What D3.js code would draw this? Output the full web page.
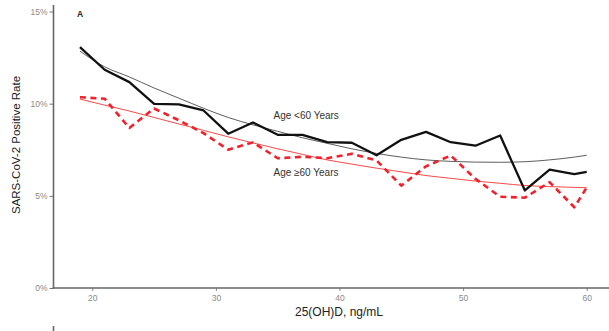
<!DOCTYPE html>
<html>
<head>
<meta charset="utf-8">
<script src="https://cdn.jsdelivr.net/npm/d3@7"></script>
<style>
  html, body { margin: 0; padding: 0; background: #fff; }
  svg { display: block; font-family: "Liberation Sans", Arial, sans-serif; }
</style>
</head>
<body>
<svg id="chart" width="609" height="331"></svg>
<script>
// ---- data ----
const vitD = [19, 21, 23, 25, 27, 29, 31, 33, 35, 37, 39, 41, 43, 45, 47, 49, 51, 53, 55, 57, 59, 60];
const rateUnder60 = [13.07, 11.84, 11.17, 9.99, 9.96, 9.63, 8.37, 8.98, 8.31, 8.31, 7.91, 7.88, 7.2, 8.04, 8.47, 7.91, 7.72, 8.27, 5.29, 6.42, 6.18, 6.3];
const rate60Plus = [10.35, 10.27, 8.68, 9.74, 9.1, 8.4, 7.5, 7.9, 7.04, 7.12, 7.04, 7.28, 6.92, 5.55, 6.6, 7.19, 5.92, 4.95, 4.9, 5.74, 4.38, 5.45];
const trendX = [19, 21, 23, 25, 27, 29, 31, 33, 35, 37, 39, 41, 43, 45, 47, 49, 51, 53, 55, 57, 59, 60];
const trendUnder60 = [12.85, 12.0, 11.45, 10.85, 10.3, 9.75, 9.25, 8.85, 8.5, 8.15, 7.85, 7.55, 7.3, 7.1, 6.95, 6.87, 6.83, 6.82, 6.85, 6.95, 7.1, 7.2];
const trend60Plus = [10.25, 9.92, 9.6, 9.25, 8.9, 8.55, 8.2, 7.87, 7.55, 7.25, 6.95, 6.72, 6.5, 6.3, 6.1, 5.95, 5.8, 5.68, 5.56, 5.5, 5.46, 5.44];
const xTicks = [20, 30, 40, 50, 60];
const yTicks = [0, 5, 10, 15];
const seriesLabels = ["Age <60 Years", "Age \u226560 Years"];

// ---- chart ----
const svg = d3.select("#chart");
const x = d3.scaleLinear().domain([20, 60]).range([92.3, 586.7]);
const y = d3.scaleLinear().domain([0, 15]).range([288, 11.5]);
const axisX0 = 53.5;

// y axis
const yAxis = svg.append("g").attr("transform", `translate(${axisX0},0)`)
  .call(d3.axisLeft(y).tickValues(yTicks).tickSize(4).tickPadding(2).tickFormat(d => d + "%"));
yAxis.select(".domain").remove();
yAxis.selectAll(".tick line").attr("stroke", "#777").attr("stroke-width", 1);
yAxis.selectAll(".tick text").attr("fill", "#8a8a8a").attr("font-size", 8.5).attr("font-family", "Liberation Sans, Arial, sans-serif");
svg.append("line").attr("x1", axisX0).attr("x2", axisX0).attr("y1", 5).attr("y2", 288.5)
  .attr("stroke", "#666").attr("stroke-width", 1.6);

// x axis
const xAxis = svg.append("g").attr("transform", `translate(0,${y(0)})`)
  .call(d3.axisBottom(x).tickValues(xTicks).tickSize(3).tickPadding(4));
xAxis.select(".domain").remove();
xAxis.selectAll(".tick line").attr("stroke", "#888").attr("stroke-width", 1);
xAxis.selectAll(".tick text").attr("fill", "#8a8a8a").attr("font-size", 8.5).attr("font-family", "Liberation Sans, Arial, sans-serif");
svg.append("line").attr("x1", axisX0 - 0.8).attr("x2", 609).attr("y1", y(0)).attr("y2", y(0))
  .attr("stroke", "#666").attr("stroke-width", 1.6);

// axis titles
svg.append("text").attr("x", 339).attr("y", 315.5).attr("text-anchor", "middle")
  .attr("font-size", 12).attr("fill", "#222").text("25(OH)D, ng/mL");
svg.append("text").attr("transform", "translate(20,145) rotate(-90)").attr("text-anchor", "middle")
  .attr("font-size", 11.5).attr("fill", "#222").text("SARS-CoV-2 Positive Rate");

// panel letter
svg.append("text").attr("x", 77).attr("y", 16.5).attr("font-size", 8.5).attr("font-weight", "bold")
  .attr("fill", "#222").text("A");

// lines
const lineGen = (xs) => d3.line().x((d, i) => x(xs[i])).y(d => y(d));
const smoothGen = (xs) => d3.line().curve(d3.curveMonotoneX).x((d, i) => x(xs[i])).y(d => y(d));

svg.append("path").datum(trendUnder60).attr("d", smoothGen(trendX))
  .attr("fill", "none").attr("stroke", "#333").attr("stroke-width", 0.8);
svg.append("path").datum(trend60Plus).attr("d", smoothGen(trendX))
  .attr("fill", "none").attr("stroke", "#f33").attr("stroke-width", 0.9);

svg.append("path").datum(rateUnder60).attr("d", lineGen(vitD))
  .attr("fill", "none").attr("stroke", "#111").attr("stroke-width", 2.3).attr("stroke-linejoin", "round");
svg.append("path").datum(rate60Plus).attr("d", lineGen(vitD))
  .attr("fill", "none").attr("stroke", "#f2202a").attr("stroke-width", 2.6)
  .attr("stroke-dasharray", "6,4.5").attr("stroke-linejoin", "round");

// series labels
svg.append("text").attr("x", 273.5).attr("y", 118.5).attr("font-size", 10).attr("fill", "#333").text(seriesLabels[0]);
svg.append("text").attr("x", 273.5).attr("y", 176).attr("font-size", 10).attr("fill", "#333").text(seriesLabels[1]);

// top of next panel (cut off at bottom, as in the reference)
svg.append("text").attr("x", 46).attr("y", 337).attr("text-anchor", "end").attr("font-size", 8.5).attr("fill", "#8a8a8a").text("10%");
svg.append("text").attr("x", 80).attr("y", 337).attr("font-size", 8.5).attr("font-weight", "bold").attr("fill", "#222").text("B");
svg.append("line").attr("x1", axisX0).attr("x2", axisX0).attr("y1", 326).attr("y2", 331).attr("stroke", "#666").attr("stroke-width", 1.6);
</script>
</body>
</html>
